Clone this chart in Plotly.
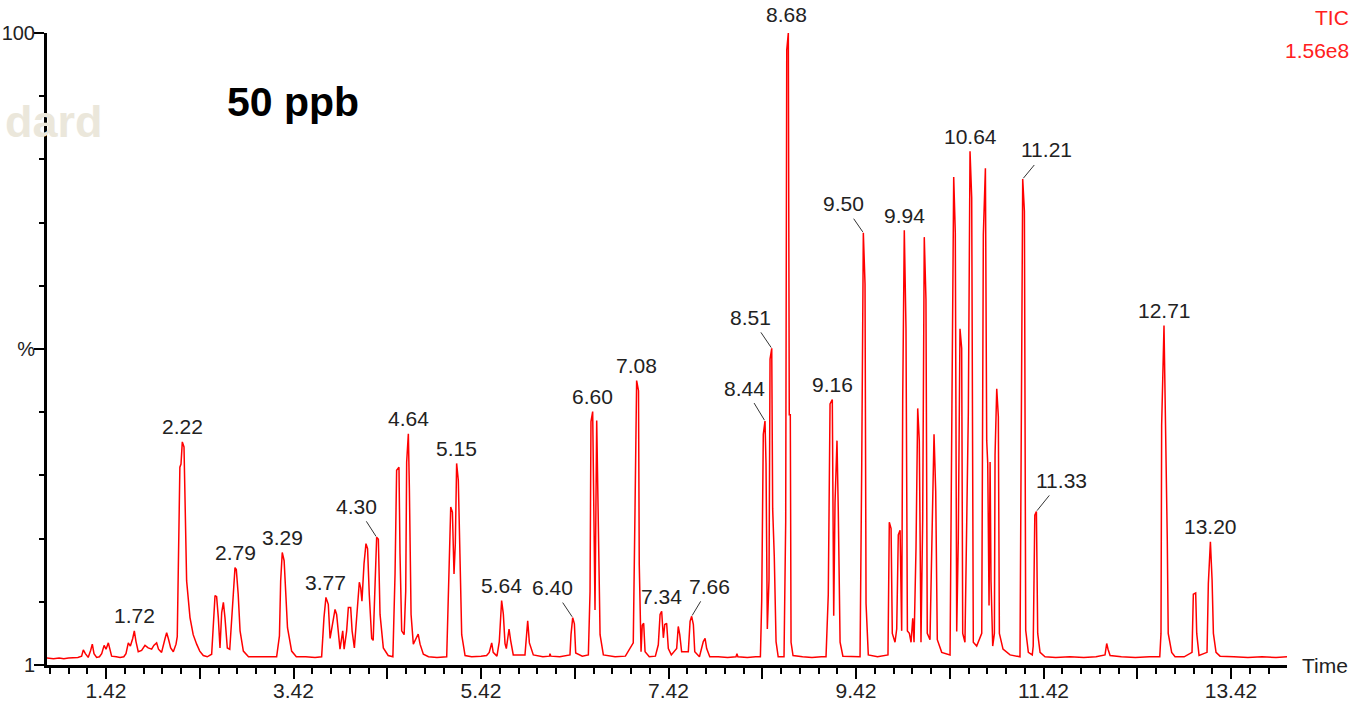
import plotly.graph_objects as go

# ---------------- data: TIC trace vertices (retention time in min, % of max) ----------------
time_a = [0.79, 0.86, 0.92, 0.97, 1.02, 1.07, 1.12, 1.16, 1.178, 1.20, 1.23, 1.256, 1.274, 1.292, 1.32,
          1.35, 1.374, 1.40, 1.42, 1.445, 1.46, 1.48, 1.53, 1.57, 1.61, 1.633, 1.658, 1.68, 1.705, 1.722,
          1.74, 1.764, 1.80, 1.836, 1.87, 1.907, 1.93, 1.96, 1.98, 2.013, 2.05, 2.067, 2.085, 2.11, 2.138,
          2.167]
pct_a = [1.1, 1.0, 1.1, 1.0, 1.1, 1.2, 1.2, 1.4, 2.4, 1.8, 1.2, 2.3, 3.3, 1.8, 1.2,
         1.3, 1.8, 3.1, 2.5, 3.5, 2.5, 1.4, 1.3, 1.2, 1.3, 1.8, 3.5, 3.0, 4.2, 5.4,
         3.7, 2.1, 2.3, 3.1, 2.7, 2.5, 3.1, 3.5, 2.5, 2.0, 4.2, 5.1, 4.2, 2.7, 2.1,
         3.3]

time_b = [2.18, 2.19, 2.208, 2.22, 2.234, 2.252, 2.263, 2.28, 2.316, 2.35, 2.387, 2.42, 2.458, 2.50,
          2.547, 2.565, 2.583, 2.60, 2.618, 2.636, 2.654, 2.672, 2.689, 2.714, 2.74, 2.778, 2.796,
          2.81, 2.83, 2.85, 2.885, 2.94, 3.00, 3.10, 3.20, 3.24, 3.27, 3.283, 3.30, 3.32, 3.338,
          3.356, 3.40, 3.45, 3.55, 3.65, 3.72]
pct_b = [4.5, 16.2, 31.3, 31.8, 35.3, 34.5, 26.8, 13.3, 7.5, 4.8, 3.3, 2.2, 1.5, 1.3,
         1.7, 5.9, 11.0, 10.8, 7.5, 2.7, 8.3, 9.9, 7.5, 2.7, 2.5, 11.2, 15.4,
         15.1, 11.2, 5.4, 2.2, 1.3, 1.3, 1.2, 1.3, 1.3, 4.6, 13.3, 17.8, 16.5, 11.2,
         5.9, 2.2, 1.3, 1.3, 1.2, 1.3]

time_c = [3.745, 3.766, 3.791, 3.81, 3.838, 3.863, 3.88, 3.898, 3.916, 3.945, 3.96, 3.987, 4.005,
          4.03, 4.045, 4.069, 4.094, 4.122, 4.137, 4.15, 4.172, 4.193, 4.21, 4.228, 4.254, 4.27,
          4.29, 4.307, 4.325, 4.343, 4.378, 4.43, 4.48, 4.503, 4.52, 4.545, 4.556, 4.574, 4.60,
          4.617, 4.627, 4.645, 4.656, 4.674, 4.698, 4.734, 4.75, 4.77, 4.805, 4.86, 4.95, 5.054,
          5.072, 5.097, 5.115, 5.132, 5.146, 5.16, 5.178, 5.196, 5.214, 5.25, 5.32, 5.42]
pct_c = [7.5, 10.7, 9.6, 4.2, 6.5, 8.8, 8.0, 4.9, 2.5, 5.4, 2.5, 5.4, 9.1,
         9.1, 5.4, 2.7, 7.5, 13.1, 12.2, 10.1, 16.0, 19.2, 18.4, 11.2, 4.2, 3.9,
         12.8, 20.2, 19.9, 8.0, 2.7, 1.5, 1.3, 14.4, 30.8, 31.3, 17.6, 5.4, 4.8,
         11.7, 32.1, 36.6, 27.9, 8.0, 3.3, 4.4, 4.9, 3.3, 1.7, 1.3, 1.2, 1.3,
         12.3, 25.0, 24.2, 14.4, 19.2, 31.9, 29.2, 16.5, 4.8, 1.5, 1.3, 1.4]

time_d = [5.48, 5.508, 5.534, 5.55, 5.59, 5.615, 5.64, 5.658, 5.676, 5.69, 5.719, 5.736, 5.764,
          5.889, 5.90, 5.918, 5.936, 5.978, 6.08, 6.15, 6.156, 6.165, 6.26, 6.369, 6.38, 6.398,
          6.416, 6.43, 6.50, 6.565, 6.583, 6.593, 6.611, 6.622, 6.636, 6.654, 6.668, 6.69, 6.725,
          6.85, 6.96, 7.044, 7.063, 7.08, 7.10, 7.108, 7.127, 7.14, 7.155, 7.17, 7.215, 7.28,
          7.311, 7.33, 7.347, 7.365, 7.38, 7.40, 7.418, 7.45, 7.507, 7.524, 7.54, 7.56, 7.631,
          7.65, 7.667, 7.685, 7.70, 7.75, 7.791, 7.81, 7.827, 7.86]
pct_d = [1.5, 2.0, 3.5, 2.0, 1.4, 3.7, 10.2, 8.1, 3.4, 2.6, 5.7, 3.9, 1.6,
         1.6, 3.5, 7.0, 3.5, 1.6, 1.3, 1.4, 1.8, 1.4, 1.3, 1.6, 4.8, 7.5,
         6.5, 1.9, 1.4, 1.6, 11.6, 38.5, 40.1, 23.5, 8.7, 38.7, 27.1, 4.8, 1.6,
         1.3, 1.4, 3.5, 24.9, 45.0, 43.4, 15.9, 2.1, 6.3, 6.6, 2.1, 1.3, 1.4,
         3.2, 8.0, 8.5, 4.3, 6.4, 6.6, 2.6, 1.6, 2.6, 6.1, 4.8, 2.1, 2.1,
         6.9, 7.7, 6.4, 2.1, 1.3, 3.7, 4.2, 2.6, 1.3]

time_e = [7.95, 8.05, 8.14, 8.15, 8.16, 8.26, 8.35, 8.40, 8.414, 8.431, 8.449, 8.46, 8.474, 8.492,
          8.503, 8.521, 8.531, 8.548, 8.567, 8.59, 8.652, 8.67, 8.681, 8.698, 8.708, 8.719, 8.727,
          8.748, 8.85, 8.95, 9.05, 9.10, 9.124, 9.143, 9.167, 9.182, 9.196, 9.217, 9.231, 9.25,
          9.28, 9.37, 9.463, 9.481, 9.498, 9.516, 9.527, 9.551, 9.65, 9.761]
pct_e = [1.3, 1.2, 1.3, 1.8, 1.3, 1.2, 1.3, 1.3, 10.1, 36.5, 38.6, 31.8, 5.7, 13.5,
         48.4, 50.1, 24.7, 17.2, 3.7, 1.3, 1.3, 22.7, 97.3, 100.0, 39.6, 39.6, 3.6,
         1.5, 1.3, 1.2, 1.3, 1.3, 11.1, 41.3, 42.0, 7.8, 25.7, 35.5, 24.3, 3.6,
         1.4, 1.3, 1.3, 31.8, 68.4, 60.3, 9.7, 1.6, 1.3, 1.6]

time_f = [9.775, 9.794, 9.807, 9.836, 9.854, 9.871, 9.89, 9.907, 9.918, 9.935, 9.953, 9.968,
          9.989, 10.007, 10.025, 10.039, 10.06, 10.078, 10.095, 10.113, 10.131, 10.148, 10.166,
          10.18, 10.209, 10.234, 10.252, 10.27, 10.287, 10.334, 10.423, 10.443, 10.462, 10.479,
          10.494, 10.511, 10.529, 10.547, 10.558, 10.582, 10.618, 10.636, 10.654, 10.671, 10.707,
          10.761, 10.778, 10.80, 10.814, 10.825, 10.839, 10.85, 10.86, 10.878, 10.896, 10.903,
          10.921, 10.938, 10.949, 10.988, 11.063, 11.169, 11.177, 11.198, 11.216, 11.23, 11.258,
          11.30, 11.31, 11.327, 11.344, 11.358, 11.383, 11.436]
pct_f = [22.6, 21.6, 5.0, 3.6, 5.7, 20.6, 21.3, 5.4, 42.0, 68.8, 53.2, 5.4,
         5.0, 3.6, 7.4, 3.6, 18.6, 40.6, 35.5, 3.6, 23.0, 67.7, 57.9,
         5.0, 4.0, 23.0, 36.5, 27.4, 4.0, 2.0, 1.6, 41.0, 77.2, 68.4,
         5.3, 19.9, 53.2, 50.1, 5.0, 3.6, 39.9, 81.3, 73.9, 3.6, 3.0,
         5.0, 68.1, 78.6, 35.5, 31.8, 9.4, 32.1, 13.2, 3.0, 5.0, 33.2,
         43.7, 39.3, 5.0, 2.5, 1.6, 1.3, 26.0, 76.9, 71.8, 5.5, 2.0,
         1.6, 3.0, 23.7, 24.3, 5.0, 2.0, 1.3]

time_g = [11.55, 11.70, 11.85, 11.98, 12.076, 12.094, 12.108, 12.13, 12.25, 12.40, 12.55, 12.66,
          12.673, 12.68, 12.705, 12.723, 12.74, 12.75, 12.787, 12.823, 12.92, 13.004, 13.018,
          13.043, 13.054, 13.079, 13.164, 13.178, 13.20, 13.218, 13.232, 13.26, 13.303, 13.45,
          13.60, 13.75, 13.90, 14.017]
pct_g = [1.2, 1.3, 1.2, 1.3, 1.6, 3.4, 2.5, 1.5, 1.3, 1.2, 1.3, 1.3,
         5.0, 37.9, 53.7, 38.4, 19.8, 5.0, 2.0, 1.3, 1.3, 2.0, 11.2,
         11.4, 5.0, 1.5, 2.0, 12.9, 19.5, 13.4, 5.0, 2.0, 1.4, 1.3,
         1.2, 1.3, 1.2, 1.3]

trace_time = time_a + time_b + time_c + time_d + time_e + time_f + time_g
trace_pct = pct_a + pct_b + pct_c + pct_d + pct_e + pct_f + pct_g

# ---------------- data: peak labels (apex time, apex %, text) ----------------
label_text = ["1.72", "2.22", "2.79", "3.29", "3.77", "4.64", "5.15", "5.64", "6.60", "7.08",
              "7.34", "8.68", "9.16", "9.94", "10.64", "12.71", "13.20"]
label_time = [1.722, 2.234, 2.796, 3.30, 3.766, 4.645, 5.16, 5.64, 6.611, 7.08,
              7.347, 8.681, 9.167, 9.935, 10.636, 12.705, 13.20]
label_pct = [5.4, 35.3, 15.4, 17.8, 10.7, 36.6, 31.9, 10.2, 40.1, 45.0,
             8.5, 100.0, 42.0, 68.8, 81.3, 53.7, 19.5]

leader_text = ["4.30", "6.40", "7.66", "8.44", "8.51", "9.50", "11.21", "11.33"]
leader_time = [4.307, 6.398, 7.667, 8.449, 8.521, 9.498, 11.198, 11.344]
leader_pct = [20.2, 7.5, 7.7, 38.6, 50.1, 68.4, 76.9, 24.3]

# ---------------- axis ticks ----------------
x_tick_vals = [1.42, 2.42, 3.42, 4.42, 5.42, 6.42, 7.42, 8.42, 9.42, 10.42, 11.42, 12.42, 13.42]
x_tick_text = ["1.42", "", "3.42", "", "5.42", "", "7.42", "", "9.42", "", "11.42", "", "13.42"]
y_tick_vals = [0, 50, 100]
y_tick_text = ["1", "%", "100"]

# ---------------- styling (not data) ----------------
FONT = "Liberation Sans, Arial, sans-serif"
LABEL_COLOR = "#222222"
label_yshift = {"8.68": 19}
leader_offsets = {"4.30": (-20, -31), "6.40": (-20, -30), "7.66": (18, -30), "8.44": (-20, -33),
                  "8.51": (-21, -31), "9.50": (-20, -29), "11.21": (24, -29), "11.33": (25, -31)}

fig = go.Figure()
fig.add_trace(go.Scatter(x=trace_time, y=trace_pct, mode="lines",
                         line=dict(color="#ff0000", width=1.5), hoverinfo="skip",
                         showlegend=False))

annotations = []
for t, p, s in zip(label_time, label_pct, label_text):
    annotations.append(dict(x=t, y=p, xref="x", yref="y", text=s, showarrow=False,
                            xanchor="center", yanchor="middle", yshift=label_yshift.get(s, 15),
                            font=dict(family=FONT, size=21, color=LABEL_COLOR)))
for t, p, s in zip(leader_time, leader_pct, leader_text):
    dx, dy = leader_offsets[s]
    annotations.append(dict(x=t, y=p, xref="x", yref="y", text=s, showarrow=True,
                            arrowhead=0, arrowwidth=1, arrowcolor="#333333", ax=dx, ay=dy,
                            standoff=1, borderpad=3,
                            font=dict(family=FONT, size=21, color=LABEL_COLOR)))

# chart texts (paper coords relative to the plot area: 47..1287 px wide, 33..665 px tall)
annotations += [
    dict(xref="paper", yref="paper", x=1.0102, y=0.0, text="Time", showarrow=False,
         xanchor="left", yanchor="middle", font=dict(family=FONT, size=21, color=LABEL_COLOR)),
    dict(xref="paper", yref="paper", x=1.0515, y=1.0245, text="TIC", showarrow=False,
         xanchor="right", yanchor="middle", font=dict(family=FONT, size=21, color="#ff2020")),
    dict(xref="paper", yref="paper", x=1.0515, y=0.973, text="1.56e8", showarrow=False,
         xanchor="right", yanchor="middle", font=dict(family=FONT, size=21, color="#ff2020")),
    dict(xref="paper", yref="paper", x=0.1435, y=0.8916, text="<b>50 ppb</b>", showarrow=False,
         xanchor="left", yanchor="middle",
         font=dict(family=FONT, size=41, color="#000000")),
    dict(xref="paper", yref="paper", x=0.047, y=0.86, text="<b>dard</b>", showarrow=False,
         xanchor="right", yanchor="middle",
         font=dict(family=FONT, size=45, color="#ebe7db")),
]

fig.update_layout(
    width=1351, height=706,
    margin=dict(l=47, r=64, t=33, b=41, autoexpand=False),
    paper_bgcolor="white", plot_bgcolor="white",
    showlegend=False,
    annotations=annotations,
    xaxis=dict(range=[0.7907, 14.017], showgrid=False, zeroline=False, automargin=False,
               showline=True, linecolor="black", linewidth=3,
               tickmode="array", tickvals=x_tick_vals, ticktext=x_tick_text,
               ticks="outside", ticklen=11, tickwidth=1.5, tickcolor="black",
               ticklabelstandoff=-6,
               tickfont=dict(family=FONT, size=21, color=LABEL_COLOR),
               minor=dict(tick0=0.02, dtick=0.2, ticks="outside", ticklen=6,
                          tickwidth=1.5, tickcolor="black", showgrid=False)),
    yaxis=dict(range=[0, 100], showgrid=False, zeroline=False, automargin=False,
               showline=True, linecolor="black", linewidth=3,
               tickmode="array", tickvals=y_tick_vals, ticktext=y_tick_text,
               ticks="outside", ticklen=10, tickwidth=1.5, tickcolor="black",
               ticklabelstandoff=-5,
               tickfont=dict(family=FONT, size=20, color=LABEL_COLOR),
               minor=dict(tick0=0, dtick=10, ticks="outside", ticklen=5,
                          tickwidth=1.5, tickcolor="black", showgrid=False)),
)

fig.write_html("out.html")
